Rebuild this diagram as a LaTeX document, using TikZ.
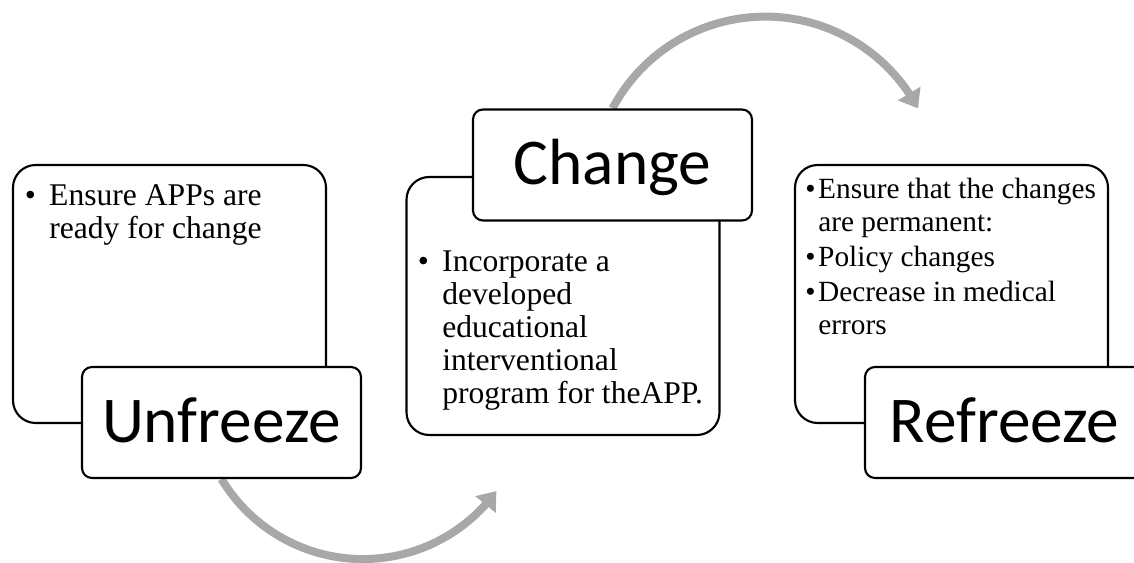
\documentclass[tikz,border=0pt]{standalone}
\usepackage{fontspec}
\setmainfont{Liberation Serif}
\newfontfamily\headfont{Carlito}
\usetikzlibrary{arrows.meta,bending,backgrounds}
\definecolor{arrowgray}{RGB}{168,168,168}
\begin{document}
\begin{tikzpicture}[x=0.75pt,y=0.75pt,
  bodybox/.style={draw=black, line width=1.6pt, rounded corners=17pt, fill=white,
    minimum width=234.75pt, minimum height=193.5pt, inner sep=0pt},
  headbox/.style={draw=black, line width=1.6pt, rounded corners=7.5pt, fill=white,
    minimum width=209.25pt, minimum height=83.25pt, inner sep=0pt,
    font=\headfont\fontsize{49pt}{52pt}\selectfont, text height=30pt, text depth=0pt},
  bodytext/.style={anchor=north west, inner sep=0pt, align=left,
    font=\fontsize{23.7pt}{24.75pt}\selectfont},
  flow/.style={draw=arrowgray, line width=6pt, -{Triangle[length=13pt,width=19pt]}}]
\clip (0,0) rectangle (1134,563);
% Unfreeze
\node[bodybox] (ubody) at (169.5,269) {};
\node[headbox] (uhead) at (221.5,140.5) {Unfreeze};
\node[bodytext] (utext) at (49,382) {\rule{0pt}{18pt}\llap{\textbullet\hspace{10pt}}Ensure APPs are\\ready for change};
% Change
\node[bodybox] (cbody) at (563,257) {};
\node[headbox] (chead) at (612.5,398) {Change};
\node[bodytext] (ctext) at (442,316) {\rule{0pt}{18pt}\llap{\textbullet\hspace{10pt}}Incorporate a\\developed\\educational\\interventional\\program for theAPP.};
% Refreeze
\node[bodybox] (rbody) at (951.5,269) {};
\node[headbox] (rhead) at (1004.5,140.5) {Refreeze};
\node[bodytext, font=\fontsize{22pt}{24.75pt}\selectfont] (rtext) at (818,389) {\rule{0pt}{18pt}\llap{\textbullet\hspace{2pt}}Ensure that the changes\\are permanent:\\[1.5pt]\llap{\textbullet\hspace{2pt}}Policy changes\\[1.5pt]\llap{\textbullet\hspace{2pt}}Decrease in medical\\errors};
\begin{scope}[on background layer]
\draw[flow] (uhead.south) arc[start angle=211, end angle=324, radius=123.75pt];
\draw[flow] (chead.north) arc[start angle=152, end angle=28, radius=129.75pt];
\end{scope}
\end{tikzpicture}
\end{document}
